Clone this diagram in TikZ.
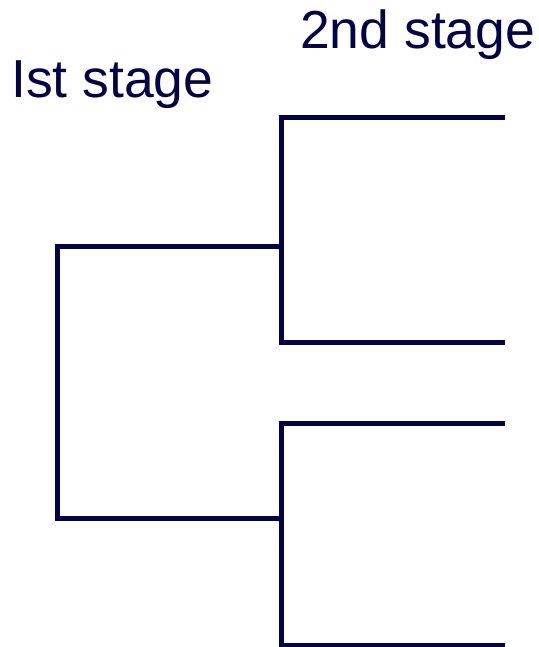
\documentclass[tikz,border=0pt]{standalone}
\usepackage{fontspec}
\setmainfont{Liberation Sans}
\definecolor{navy}{RGB}{4,4,66}
\begin{document}
\begin{tikzpicture}[x=1pt,y=-1pt,
  link/.style={draw=navy,line width=5pt,line join=miter},
  label/.style={text=navy,anchor=base west,inner sep=0pt,font=\fontsize{53.5}{60}\selectfont}]
\useasboundingbox (0,0) rectangle (538,647);
\node[label] (s1) at (11,98) {Ist stage};
\node[label] (s2) at (300,49) {2nd stage};
% leaves
\coordinate (l1) at (505,118);
\coordinate (l2) at (505,342);
\coordinate (l3) at (505,423);
\coordinate (l4) at (505,645);
% second stage joints
\coordinate (a1) at (281.5,118);
\coordinate (a2) at (281.5,342);
\coordinate (b1) at (281.5,423);
\coordinate (b2) at (281.5,645);
\coordinate (am) at (281.5,246);
\coordinate (bm) at (281.5,518);
% first stage
\coordinate (r1) at (57.5,246);
\coordinate (r2) at (57.5,518);
\draw[link] (l1) -- (a1) -- (a2) -- (l2);
\draw[link] (l3) -- (b1) -- (b2) -- (l4);
\draw[link] (am) -- (r1) -- (r2) -- (bm);
\end{tikzpicture}
\end{document}
